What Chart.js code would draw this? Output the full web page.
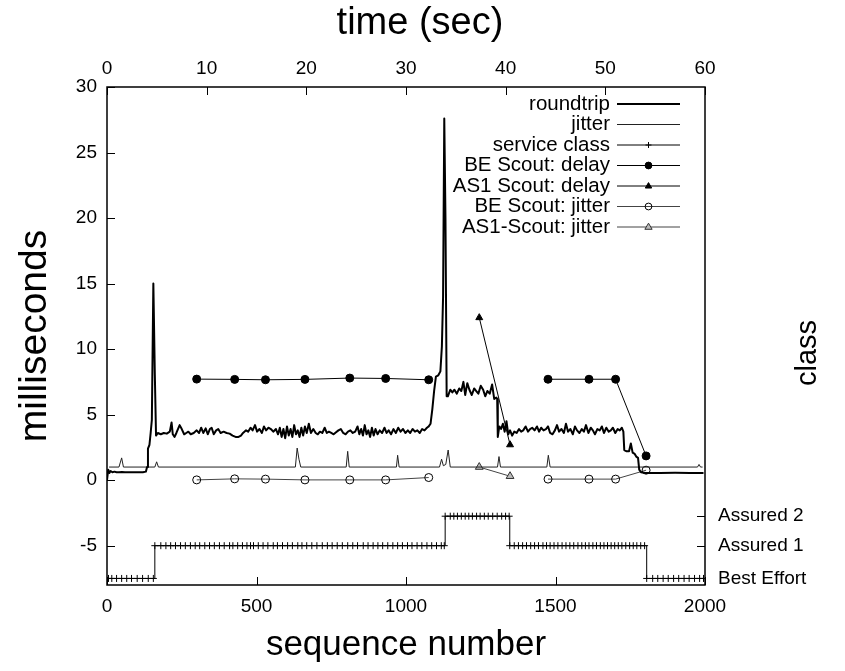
<!DOCTYPE html>
<html><head><meta charset="utf-8">
<script src="https://cdn.jsdelivr.net/npm/chart.js@4.4.1/dist/chart.umd.min.js"></script>
<style>html,body{margin:0;padding:0;background:#fff;}canvas{display:block;}</style>
</head><body>
<canvas id="c" width="845" height="671"></canvas>
<script>
const FONT = '"Liberation Sans", Arial, Helvetica, sans-serif';

// ---- tick labels ----
const xTicks = [0, 500, 1000, 1500, 2000];
const timeTicks = [0, 10, 20, 30, 40, 50, 60];
const yTicks = [-5, 0, 5, 10, 15, 20, 25, 30];
const classVals = [-7.5, -5, -2.75];
const classLabels = ['Best Effort', 'Assured 1', 'Assured 2'];

// ---- roundtrip (sequence number, ms) ----
const rtSeq = [0,4,8,12,18,25,32,40,50,60,70,80,90,100,110,120,130,134,137,142,146,150,155,160,164,
170,180,190,200,210,216,220,226,232,243,250,258,265,272,280,290,300,308,315,322,330,337,344,350,357,365,372,380,390,400,410,420,430,440,448,455,465,472,480,487,495,502,510,518,525,532,540,548,556,565,572,578,584,590,596,602,608,614,620,626,632,638,644,650,656,662,668,675,682,690,698,705,712,720,728,735,742,750,758,766,774,782,790,798,806,814,822,830,838,844,850,856,862,868,874,880,886,892,898,905,912,920,928,935,942,950,958,966,974,982,990,998,1006,1014,1022,1030,1038,1046,1054,1062,1070,1076,
1082,1088,1094,1100,1108,1115,1120,1124,1128,1132,1136,
1140,1148,1155,1162,1170,1178,1185,1192,1198,1205,1212,1220,1228,1235,1242,1250,1258,1265,1272,1280,1288,1295,1302,
1305,1307,1312,1318,1324,1330,1336,1342,1348,1355,1362,1370,1378,1385,1392,1400,1408,1415,1422,1430,1438,1445,1452,1460,1468,1475,1482,1490,1498,1505,1512,1520,1528,1535,1542,1550,1558,1565,1572,1580,1588,1595,1602,1610,1618,1625,1632,1640,1648,1655,1662,1670,1678,1685,1692,1700,1708,1715,1722,1727,
1730,1738,1746,1752,1758,1765,1770,1776,1780,1786,1800,1850,1900,1950,1995];
const rtVal = [0,0.8,0.55,0.7,0.6,0.65,0.6,0.6,0.62,0.6,0.6,0.6,0.6,0.6,0.6,0.6,0.65,1.0,2.4,2.7,3.6,4.6,15.0,8.0,3.4,
3.6,3.5,3.6,3.55,3.7,4.4,3.5,3.3,3.6,4.2,3.9,3.5,3.6,3.7,3.5,3.6,3.8,3.6,4.0,3.6,3.95,3.5,3.9,4.0,3.5,3.8,3.9,3.6,3.7,3.6,3.55,3.4,3.3,3.3,3.4,3.6,3.8,3.7,4.0,3.8,4.2,3.7,3.9,3.6,4.1,3.8,4.0,3.9,3.7,3.9,3.5,4.0,3.3,3.9,3.2,4.1,3.4,3.9,3.3,4.2,3.5,3.8,3.3,4.0,3.4,4.1,3.6,4.3,3.6,3.9,3.6,3.5,3.7,3.6,4.0,3.6,3.7,3.6,3.5,3.65,3.8,3.9,3.6,3.5,3.7,3.8,3.6,3.7,4.1,3.5,3.9,3.4,4.2,3.5,3.8,3.3,4.0,3.4,3.9,3.5,3.8,3.6,4.0,3.6,3.8,3.5,3.9,3.6,4.0,3.7,3.9,3.6,3.8,3.6,3.9,3.7,3.8,3.6,3.9,3.8,4.0,4.1,
4.3,5.4,6.8,7.9,8.0,8.3,10.2,14.0,27.6,20.0,6.4,
6.4,6.9,6.7,6.9,6.6,7.0,6.8,7.5,6.5,7.4,6.9,6.5,7.0,6.8,6.6,7.2,6.9,6.4,6.8,6.6,7.3,6.2,6.3,
6.2,3.3,4.1,3.9,4.3,3.7,4.5,3.5,3.8,3.4,3.7,3.6,3.9,3.7,3.8,4.1,3.7,3.9,4.0,3.8,4.1,3.7,4.0,3.8,3.9,4.1,3.6,3.5,3.8,4.2,3.7,3.9,3.6,4.3,3.7,3.9,3.5,4.1,3.8,3.6,3.9,3.7,4.2,3.6,4.0,3.8,3.5,3.9,3.8,4.1,3.6,4.0,3.7,3.8,4.0,3.6,3.9,3.8,4.0,3.7,
2.3,2.2,2.2,2.8,2.1,2.0,1.8,1.7,0.8,0.6,0.55,0.55,0.56,0.55,0.55];

// ---- jitter ----
const jitSeq = [7,40,49,55,160,166,172,630,636,642,648,800,805,810,968,972,977,1112,1119,1125,1133,1141,1148,1306,1311,1316,1471,1476,1482,1975,1980,1985,1992];
const jitVal = [1.0,1.0,1.7,1.0,1.0,1.4,1.0,1.0,2.45,1.6,1.0,1.0,2.2,1.0,1.0,1.9,1.0,1.0,1.6,1.1,1.2,2.3,1.0,1.0,1.8,1.0,1.0,1.9,1.0,1.0,1.2,1.0,1.0];

// ---- service class (sequence numbers of samples per segment) ----
const scBestEffortA = [5,16,32,49,66,82,101,119,138,155];
const scAssured1A = [160,180,197,213,229,246,262,279,295,310,327,343,359,376,392,410,421,437,453,468,480,490,506,522,538,556,570,587,604,620,638,652,668,685,702,720,737,753,770,787,805,822,838,857,873,890,906,922,939,956,972,988,1005,1020,1037,1053,1070,1086,1102,1118,1128];
const scAssured2 = [1131,1148,1160,1172,1185,1198,1210,1222,1236,1248,1262,1275,1290,1305,1320,1333,1345];
const scAssured1B = [1347,1362,1376,1390,1403,1417,1430,1443,1458,1470,1482,1495,1508,1522,1535,1548,1561,1575,1588,1600,1612,1625,1637,1650,1662,1674,1686,1698,1710,1722,1735,1748,1760,1772,1785,1798];
const scBestEffortB = [1805,1825,1842,1860,1877,1895,1912,1930,1947,1965,1982,1995];

// ---- scouts ----
const beDelaySeqA = [300,427,530,662,812,932,1076];
const beDelayValA = [7.71,7.69,7.66,7.69,7.79,7.76,7.66];
const beDelaySeqB = [1475,1612,1701,1803];
const beDelayValB = [7.7,7.7,7.7,1.85];
const as1DelaySeq = [1245,1348];
const as1DelayVal = [12.4,2.7];
const beJitSeqA = [300,427,530,662,812,932,1076];
const beJitValA = [0.02,0.1,0.08,0.02,0.02,0.02,0.2];
const beJitSeqB = [1475,1612,1701,1803];
const beJitValB = [0.08,0.08,0.08,0.76];
const as1JitSeq = [1245,1348];
const as1JitVal = [1.0,0.3];

const pts = (xs, ys) => xs.map((x, i) => ({x, y: ys[i]}));
const lvl = (xs, v) => xs.map(x => ({x, y: v}));
const gap = (a, b) => a.concat([{x: (a[a.length-1].x + b[0].x) / 2, y: null}], b);

const serviceData = [].concat(
  lvl(scBestEffortA, classVals[0]), lvl(scAssured1A, classVals[1]),
  lvl(scAssured2, classVals[2]), lvl(scAssured1B, classVals[1]),
  lvl(scBestEffortB, classVals[0]));

const base = {pointRadius: 0, borderJoinStyle: 'round', tension: 0, spanGaps: false, fill: false};
const datasets = [
  Object.assign({}, base, {label: 'roundtrip', data: pts(rtSeq, rtVal), borderColor: '#000', borderWidth: 2}),
  Object.assign({}, base, {label: 'jitter', data: pts(jitSeq, jitVal), borderColor: '#222', borderWidth: 1}),
  Object.assign({}, base, {label: 'service class', data: serviceData, stepped: 'before', borderColor: '#000', borderWidth: 1,
    pointStyle: 'cross', pointRadius: 3.5, pointBorderColor: '#000', pointBorderWidth: 1}),
  Object.assign({}, base, {label: 'BE Scout: delay', data: gap(pts(beDelaySeqA, beDelayValA), pts(beDelaySeqB, beDelayValB)), borderColor: '#000', borderWidth: 1,
    pointStyle: 'circle', pointRadius: 4, pointBackgroundColor: '#000', pointBorderColor: '#000', pointBorderWidth: 1}),
  Object.assign({}, base, {label: 'AS1 Scout: delay', data: pts(as1DelaySeq, as1DelayVal), borderColor: '#000', borderWidth: 1,
    pointStyle: 'triangle', pointRadius: 4, pointBackgroundColor: '#000', pointBorderColor: '#000', pointBorderWidth: 1}),
  Object.assign({}, base, {label: 'BE Scout: jitter', data: gap(pts(beJitSeqA, beJitValA), pts(beJitSeqB, beJitValB)), borderColor: '#444', borderWidth: 1,
    pointStyle: 'circle', pointRadius: 4, pointBackgroundColor: 'rgba(0,0,0,0)', pointBorderColor: '#000', pointBorderWidth: 1}),
  Object.assign({}, base, {label: 'AS1-Scout: jitter', data: pts(as1JitSeq, as1JitVal), borderColor: '#444', borderWidth: 1,
    pointStyle: 'triangle', pointRadius: 4.5, pointBackgroundColor: '#bbb', pointBorderColor: '#333', pointBorderWidth: 1})
];

function marker(ctx, style, r, x, y, fill, stroke) {
  ctx.save();
  ctx.fillStyle = fill; ctx.strokeStyle = stroke; ctx.lineWidth = 1;
  ctx.beginPath();
  if (style === 'circle') { ctx.arc(x, y, r, 0, Math.PI * 2); ctx.fill(); ctx.stroke(); }
  else if (style === 'triangle') {
    ctx.moveTo(x, y - r); ctx.lineTo(x + r * 0.95, y + r * 0.6); ctx.lineTo(x - r * 0.95, y + r * 0.6); ctx.closePath(); ctx.fill(); ctx.stroke();
  } else if (style === 'cross') { ctx.moveTo(x, y - r); ctx.lineTo(x, y + r); ctx.moveTo(x - r, y); ctx.lineTo(x + r, y); ctx.stroke(); }
  ctx.restore();
}

const gpPlugin = {
  id: 'gp',
  afterDatasetsDraw(chart) {
    const {ctx, chartArea: a, scales} = chart;
    ctx.save();
    ctx.strokeStyle = '#000'; ctx.lineWidth = 1;
    const L = 8;
    const seg = (x1, y1, x2, y2) => { ctx.beginPath(); ctx.moveTo(x1, y1); ctx.lineTo(x2, y2); ctx.stroke(); };
    scales.y.ticks.forEach(t => { const p = Math.round(scales.y.getPixelForValue(t.value)) + 0.5; seg(a.left, p, a.left + L, p); });
    scales.y2.ticks.forEach(t => { const p = Math.round(scales.y2.getPixelForValue(t.value)) + 0.5; seg(a.right, p, a.right - L, p); });
    scales.x.ticks.forEach(t => { const p = Math.round(scales.x.getPixelForValue(t.value)) + 0.5; seg(p, a.bottom, p, a.bottom - L); });
    scales.x2.ticks.forEach(t => { const p = Math.round(scales.x2.getPixelForValue(t.value)) + 0.5; seg(p, a.top, p, a.top + L); });
    ctx.lineWidth = 1.5;
    ctx.strokeRect(a.left, a.top, a.right - a.left, a.bottom - a.top);
    ctx.fillStyle = '#000'; ctx.textAlign = 'center'; ctx.textBaseline = 'middle';
    // top axis title
    ctx.font = '38px ' + FONT;
    ctx.fillText('time (sec)', 420, 24);
    // right axis title
    ctx.save();
    ctx.font = '29px ' + FONT;
    ctx.translate(808, 353); ctx.rotate(-Math.PI / 2); ctx.fillText('class', 0, 0);
    ctx.restore();
    // key
    ctx.font = '20.5px ' + FONT; ctx.textAlign = 'right';
    chart.data.datasets.forEach((ds, i) => {
      const y = 104 + i * 20.5;
      ctx.fillStyle = '#000';
      ctx.fillText(ds.label, 610, y);
      ctx.strokeStyle = ds.borderColor; ctx.lineWidth = ds.borderWidth;
      seg(617, y, 680, y);
      if (ds.pointRadius > 0) marker(ctx, ds.pointStyle, ds.pointRadius * 0.85, 648.5, y, ds.pointBackgroundColor || 'rgba(0,0,0,0)', ds.pointBorderColor);
    });
    ctx.restore();
  }
};

const tickFont = {family: FONT, size: 19};
const noGrid = {display: false, drawTicks: false, tickLength: 0};
const setTicks = arr => s => { s.ticks = arr.map(v => ({value: v})); };

new Chart(document.getElementById('c'), {
  type: 'line',
  data: {datasets},
  plugins: [gpPlugin],
  options: {
    responsive: false, animation: false,
    layout: {padding: 0},
    plugins: {legend: {display: false}, tooltip: {enabled: false}},
    scales: {
      x: {type: 'linear', position: 'bottom', min: 0, max: 2000,
        grid: noGrid, border: {display: false},
        afterBuildTicks: setTicks(xTicks),
        afterFit: s => { s.height = 86; },
        ticks: {font: tickFont, color: '#000', padding: 10, maxRotation: 0, callback: v => String(v)},
        title: {display: true, text: 'sequence number', font: {family: FONT, size: 35}, color: '#000', padding: {top: 0, bottom: 5}}},
      x2: {type: 'linear', position: 'top', min: 0, max: 60,
        grid: noGrid, border: {display: false},
        afterBuildTicks: setTicks(timeTicks),
        afterFit: s => { s.height = 87; },
        ticks: {font: tickFont, color: '#000', padding: 7, maxRotation: 0, callback: v => String(v)}},
      y: {type: 'linear', position: 'left', min: -8, max: 30,
        grid: noGrid, border: {display: false},
        afterBuildTicks: setTicks(yTicks),
        afterFit: s => { s.width = 107; },
        ticks: {font: tickFont, color: '#000', padding: 10, callback: v => String(v)},
        title: {display: true, text: 'milliseconds', font: {family: FONT, size: 39}, color: '#000', padding: {top: 12, bottom: 0}}},
      y2: {type: 'linear', position: 'right', min: -8, max: 30,
        grid: noGrid, border: {display: false},
        afterBuildTicks: setTicks(classVals),
        afterFit: s => { s.width = 140; },
        ticks: {font: tickFont, color: '#000', padding: 13, callback: (v, i) => classLabels[i]}}
    }
  }
});
</script>
</body></html>
